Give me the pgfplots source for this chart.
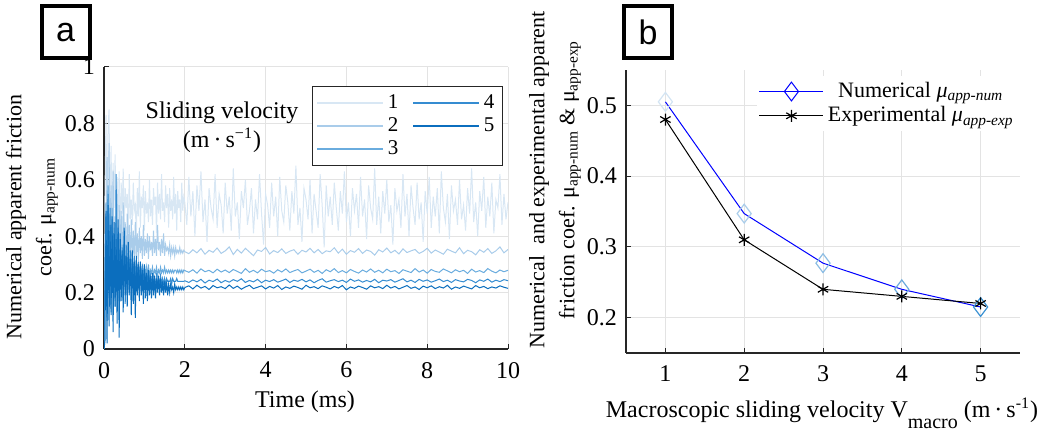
\documentclass[border=0pt]{standalone}
\usepackage{fontspec}
\setmainfont{Liberation Serif}
\newfontfamily\sansf{Liberation Sans}
\usepackage{pgfplots}
\usepackage{pgfplotstable}
\pgfplotsset{compat=1.18}
\definecolor{cA}{HTML}{D8E7F4}
\definecolor{cB}{HTML}{A9CCEA}
\definecolor{cC}{HTML}{6AACDE}
\definecolor{cD}{HTML}{358CD1}
\definecolor{cE}{HTML}{0B6EBE}
\definecolor{dA}{HTML}{D3E4F3}
\definecolor{dB}{HTML}{AACDEA}
\definecolor{dC}{HTML}{8CBDE4}
\definecolor{dD}{HTML}{6CAADD}
\definecolor{dE}{HTML}{3C92D3}
\definecolor{gridc}{HTML}{E3E3E3}
\definecolor{axc}{HTML}{262626}
\pgfplotstableread{
t s1 s2 s3 s4 s5
0.000 0.00 0.00 0.00 0.00 0.00
0.025 0.55 0.41 0.33 0.28 0.03
0.050 0.83 0.26 0.52 0.47 0.49
0.075 0.37 0.68 0.14 0.10 0.02
0.100 0.78 0.21 0.58 0.55 0.51
0.125 0.85 0.73 0.19 0.18 0.08
0.150 0.41 0.29 0.47 0.50 0.44
0.175 0.72 0.58 0.16 0.13 0.12
0.200 0.39 0.23 0.50 0.46 0.47
0.225 0.66 0.63 0.21 0.20 0.06
0.250 0.50 0.30 0.43 0.41 0.45
0.275 0.69 0.47 0.17 0.15 0.15
0.300 0.40 0.27 0.45 0.62 0.39
0.325 0.61 0.55 0.22 0.19 0.09
0.350 0.47 0.24 0.41 0.43 0.46
0.375 0.63 0.51 0.18 0.17 0.04
0.400 0.37 0.31 0.39 0.39 0.41
0.425 0.59 0.49 0.23 0.21 0.17
0.450 0.48 0.26 0.37 0.36 0.35
0.475 0.64 0.52 0.19 0.18 0.13
0.500 0.43 0.33 0.38 0.40 0.43
0.525 0.57 0.45 0.22 0.16 0.19
0.550 0.50 0.28 0.35 0.37 0.33
0.575 0.55 0.48 0.20 0.21 0.15
0.600 0.41 0.31 0.36 0.34 0.38
0.625 0.62 0.44 0.23 0.19 0.20
0.650 0.46 0.29 0.33 0.35 0.32
0.675 0.53 0.46 0.21 0.22 0.12
0.700 0.44 0.32 0.34 0.32 0.35
0.725 0.59 0.42 0.24 0.20 0.16
0.750 0.49 0.30 0.31 0.33 0.31
0.775 0.51 0.45 0.23 0.21 0.11
0.800 0.40 0.33 0.32 0.30 0.33
0.825 0.57 0.41 0.25 0.22 0.19
0.850 0.47 0.31 0.30 0.31 0.30
0.875 0.63 0.43 0.24 0.20 0.17
0.900 0.43 0.34 0.31 0.29 0.31
0.925 0.54 0.40 0.25 0.23 0.19
0.950 0.50 0.32 0.29 0.30 0.28
0.975 0.58 0.44 0.26 0.21 0.16
1.000 0.42 0.33 0.30 0.28 0.30
1.025 0.56 0.39 0.25 0.23 0.18
1.050 0.48 0.34 0.29 0.27 0.27
1.075 0.52 0.41 0.26 0.22 0.17
1.100 0.45 0.32 0.30 0.28 0.28
1.125 0.60 0.40 0.26 0.23 0.19
1.150 0.47 0.35 0.28 0.26 0.26
1.175 0.53 0.38 0.27 0.22 0.18
1.200 0.44 0.33 0.29 0.27 0.27
1.225 0.57 0.42 0.26 0.23 0.19
1.250 0.51 0.34 0.28 0.25 0.26
1.275 0.54 0.39 0.27 0.22 0.18
1.300 0.41 0.33 0.29 0.26 0.25
1.325 0.59 0.44 0.26 0.23 0.20
1.350 0.48 0.35 0.28 0.25 0.26
1.375 0.55 0.38 0.27 0.23 0.19
1.400 0.46 0.33 0.29 0.26 0.25
1.425 0.62 0.39 0.27 0.23 0.20
1.450 0.49 0.34 0.28 0.25 0.24
1.475 0.52 0.41 0.27 0.23 0.19
1.500 0.45 0.33 0.29 0.25 0.24
1.525 0.58 0.37 0.27 0.23 0.20
1.550 0.50 0.35 0.28 0.25 0.24
1.575 0.55 0.36 0.27 0.24 0.19
1.600 0.43 0.34 0.28 0.24 0.23
1.625 0.57 0.37 0.27 0.24 0.20
1.650 0.49 0.33 0.28 0.25 0.23
1.675 0.53 0.36 0.27 0.23 0.21
1.700 0.46 0.34 0.28 0.25 0.22
1.725 0.61 0.36 0.27 0.24 0.20
1.750 0.48 0.33 0.28 0.24 0.23
1.775 0.55 0.36 0.28 0.24 0.21
1.800 0.42 0.34 0.27 0.25 0.22
1.825 0.56 0.35 0.28 0.24 0.21
1.850 0.50 0.34 0.27 0.24 0.22
1.875 0.53 0.36 0.28 0.24 0.21
1.900 0.45 0.34 0.27 0.24 0.22
1.925 0.59 0.35 0.28 0.24 0.21
1.950 0.49 0.34 0.27 0.24 0.22
1.975 0.54 0.35 0.28 0.24 0.21
2.000 0.52 0.345 0.278 0.242 0.218
}\tA
\pgfplotstableread[row sep=\\]{
t y\\
2.00 0.52\\ 2.05 0.44\\ 2.10 0.61\\ 2.15 0.47\\ 2.20 0.56\\ 2.25 0.40\\ 2.30 0.58\\ 2.35 0.49\\ 2.40 0.63\\ 2.45 0.45\\
2.50 0.53\\ 2.55 0.38\\ 2.60 0.57\\ 2.65 0.50\\ 2.70 0.46\\ 2.75 0.62\\ 2.80 0.43\\ 2.85 0.55\\ 2.90 0.51\\ 2.95 0.41\\
3.00 0.59\\ 3.05 0.48\\ 3.10 0.54\\ 3.15 0.42\\ 3.20 0.64\\ 3.25 0.47\\ 3.30 0.52\\ 3.35 0.39\\ 3.40 0.56\\ 3.45 0.50\\
3.50 0.60\\ 3.55 0.44\\ 3.60 0.49\\ 3.65 0.57\\ 3.70 0.41\\ 3.75 0.53\\ 3.80 0.46\\ 3.85 0.62\\ 3.90 0.48\\ 3.95 0.37\\
4.00 0.55\\ 4.05 0.51\\ 4.10 0.43\\ 4.15 0.59\\ 4.20 0.47\\ 4.25 0.54\\ 4.30 0.40\\ 4.35 0.61\\ 4.40 0.49\\ 4.45 0.45\\
4.50 0.58\\ 4.55 0.52\\ 4.60 0.42\\ 4.65 0.56\\ 4.70 0.48\\ 4.75 0.65\\ 4.80 0.44\\ 4.85 0.50\\ 4.90 0.38\\ 4.95 0.57\\
5.00 0.53\\ 5.05 0.46\\ 5.10 0.60\\ 5.15 0.41\\ 5.20 0.55\\ 5.25 0.49\\ 5.30 0.43\\ 5.35 0.62\\ 5.40 0.51\\ 5.45 0.36\\
5.50 0.58\\ 5.55 0.47\\ 5.60 0.54\\ 5.65 0.44\\ 5.70 0.59\\ 5.75 0.50\\ 5.80 0.42\\ 5.85 0.56\\ 5.90 0.48\\ 5.95 0.63\\
6.00 0.45\\ 6.05 0.52\\ 6.10 0.40\\ 6.15 0.57\\ 6.20 0.49\\ 6.25 0.55\\ 6.30 0.43\\ 6.35 0.61\\ 6.40 0.47\\ 6.45 0.53\\
6.50 0.39\\ 6.55 0.58\\ 6.60 0.50\\ 6.65 0.46\\ 6.70 0.64\\ 6.75 0.44\\ 6.80 0.54\\ 6.85 0.41\\ 6.90 0.56\\ 6.95 0.48\\
7.00 0.60\\ 7.05 0.45\\ 7.10 0.51\\ 7.15 0.37\\ 7.20 0.57\\ 7.25 0.49\\ 7.30 0.53\\ 7.35 0.43\\ 7.40 0.62\\ 7.45 0.47\\
7.50 0.55\\ 7.55 0.40\\ 7.60 0.58\\ 7.65 0.50\\ 7.70 0.44\\ 7.75 0.59\\ 7.80 0.46\\ 7.85 0.52\\ 7.90 0.38\\ 7.95 0.56\\
8.00 0.48\\ 8.05 0.61\\ 8.10 0.43\\ 8.15 0.54\\ 8.20 0.47\\ 8.25 0.57\\ 8.30 0.41\\ 8.35 0.63\\ 8.40 0.50\\ 8.45 0.45\\
8.50 0.55\\ 8.55 0.39\\ 8.60 0.58\\ 8.65 0.49\\ 8.70 0.53\\ 8.75 0.44\\ 8.80 0.60\\ 8.85 0.46\\ 8.90 0.51\\ 8.95 0.42\\
9.00 0.57\\ 9.05 0.48\\ 9.10 0.64\\ 9.15 0.45\\ 9.20 0.52\\ 9.25 0.40\\ 9.30 0.56\\ 9.35 0.49\\ 9.40 0.61\\ 9.45 0.43\\
9.50 0.54\\ 9.55 0.47\\ 9.60 0.59\\ 9.65 0.41\\ 9.70 0.53\\ 9.75 0.50\\ 9.80 0.62\\ 9.85 0.44\\ 9.90 0.55\\ 9.95 0.46\\
10.00 0.52\\
}\tB
\pgfplotstableread{
t s2 s3 s4 s5
2.0 0.345 0.278 0.242 0.218
2.1 0.338 0.272 0.236 0.224
2.2 0.352 0.281 0.245 0.213
2.3 0.341 0.269 0.238 0.226
2.4 0.356 0.284 0.247 0.216
2.5 0.336 0.274 0.234 0.222
2.6 0.350 0.279 0.244 0.211
2.7 0.343 0.270 0.239 0.225
2.8 0.358 0.283 0.248 0.217
2.9 0.339 0.273 0.235 0.221
3.0 0.348 0.280 0.243 0.214
3.1 0.362 0.271 0.237 0.227
3.2 0.335 0.282 0.246 0.215
3.3 0.353 0.275 0.240 0.223
3.4 0.340 0.268 0.249 0.212
3.5 0.357 0.285 0.236 0.220
3.6 0.344 0.272 0.243 0.226
3.7 0.331 0.279 0.238 0.214
3.8 0.351 0.270 0.247 0.219
3.9 0.346 0.283 0.235 0.224
4.0 0.360 0.274 0.244 0.213
4.1 0.337 0.278 0.239 0.222
4.2 0.349 0.269 0.246 0.216
4.3 0.342 0.281 0.237 0.225
4.4 0.355 0.273 0.242 0.211
4.5 0.339 0.284 0.248 0.220
4.6 0.347 0.271 0.236 0.215
4.7 0.352 0.277 0.244 0.223
4.8 0.336 0.282 0.240 0.218
4.9 0.350 0.270 0.247 0.212
5.0 0.344 0.276 0.238 0.226
5.1 0.357 0.283 0.245 0.217
5.2 0.341 0.272 0.235 0.221
5.3 0.353 0.279 0.243 0.214
5.4 0.338 0.268 0.249 0.224
5.5 0.348 0.281 0.237 0.219
5.6 0.345 0.274 0.242 0.213
5.7 0.359 0.285 0.246 0.222
5.8 0.340 0.271 0.239 0.216
5.9 0.354 0.278 0.244 0.225
6.0 0.336 0.270 0.236 0.210
6.1 0.349 0.282 0.248 0.220
6.2 0.343 0.275 0.240 0.215
6.3 0.356 0.269 0.245 0.223
6.4 0.339 0.280 0.237 0.218
6.5 0.351 0.273 0.243 0.212
6.6 0.346 0.284 0.238 0.224
6.7 0.333 0.272 0.247 0.217
6.8 0.352 0.279 0.235 0.221
6.9 0.344 0.270 0.244 0.214
7.0 0.358 0.283 0.241 0.226
7.1 0.341 0.274 0.246 0.216
7.2 0.350 0.278 0.237 0.222
7.3 0.337 0.268 0.243 0.213
7.4 0.355 0.281 0.249 0.219
7.5 0.342 0.276 0.238 0.225
7.6 0.348 0.271 0.244 0.215
7.7 0.353 0.285 0.236 0.220
7.8 0.339 0.273 0.247 0.211
7.9 0.346 0.280 0.240 0.223
8.0 0.357 0.269 0.245 0.217
8.1 0.340 0.282 0.237 0.224
8.2 0.351 0.275 0.242 0.214
8.3 0.344 0.272 0.248 0.221
8.4 0.336 0.284 0.239 0.216
8.5 0.354 0.277 0.244 0.226
8.6 0.347 0.270 0.236 0.212
8.7 0.341 0.281 0.246 0.220
8.8 0.359 0.274 0.241 0.215
8.9 0.338 0.279 0.238 0.223
9.0 0.350 0.268 0.247 0.218
9.1 0.345 0.283 0.243 0.213
9.2 0.334 0.273 0.235 0.225
9.3 0.352 0.278 0.245 0.217
9.4 0.343 0.271 0.240 0.222
9.5 0.356 0.285 0.248 0.214
9.6 0.339 0.276 0.237 0.220
9.7 0.348 0.270 0.244 0.216
9.8 0.362 0.280 0.239 0.224
9.9 0.341 0.274 0.246 0.219
10.0 0.353 0.279 0.242 0.215
}\tC
\pgfplotsset{mystyle/.style={scale only axis, axis x line*=bottom, axis y line*=left,
  axis line style={-,axc,line width=0.6pt}, grid=major, major grid style={gridc,line width=0.5pt},
  tick align=inside, major tick length=2.5pt, tick style={axc,line width=0.5pt},
  /pgf/number format/assume math mode=true,
  xticklabel={\pgfmathprintnumber{\tick}}, yticklabel={\pgfmathprintnumber{\tick}},
  ticklabel style={font=\rmfamily\fontsize{12}{14}\selectfont},
  xticklabel style={yshift=-3pt}, yticklabel style={xshift=-1pt}}}
\begin{document}
\begin{tikzpicture}
\path[use as bounding box] (0,0) rectangle (527.5pt,219pt);
% ---------- panel a ----------
\begin{axis}[mystyle, at={(52pt,44.5pt)}, anchor=south west, width=202pt, height=141pt,
  xmin=0, xmax=10, ymin=0, ymax=1, xtick={0,2,4,6,8,10}, ytick={0,0.2,0.4,0.6,0.8,1},
  legend columns=2,
  legend image code/.code={\draw[#1] (0pt,0pt) -- (33pt,0pt);},
  legend style={at={(1,1)}, anchor=north east, xshift=-2.5pt, yshift=-9.5pt,
    draw=axc, line width=0.6pt, fill=white, font=\fontsize{10.5}{12}\selectfont,
    row sep=-1pt, inner xsep=2pt, /tikz/every even column/.append style={column sep=5pt}}]
\addlegendimage{cA, line width=0.8pt}\addlegendentry{1}
\addlegendimage{cD, line width=0.8pt}\addlegendentry{4}
\addlegendimage{cB, line width=0.8pt}\addlegendentry{2}
\addlegendimage{cE, line width=0.8pt}\addlegendentry{5}
\addlegendimage{cC, line width=0.8pt}\addlegendentry{3}
\addplot[cA, line width=0.5pt, forget plot] table[x=t,y=s1] {\tA};
\addplot[cA, line width=0.5pt, forget plot] table[x=t,y=y] {\tB};
\addplot[cB, line width=0.5pt, forget plot] table[x=t,y=s2] {\tA};
\addplot[cB, line width=0.5pt, forget plot] table[x=t,y=s2] {\tC};
\addplot[cC, line width=0.5pt, forget plot] table[x=t,y=s3] {\tA};
\addplot[cC, line width=0.5pt, forget plot] table[x=t,y=s3] {\tC};
\addplot[cD, line width=0.5pt, forget plot] table[x=t,y=s4] {\tA};
\addplot[cD, line width=0.5pt, forget plot] table[x=t,y=s4] {\tC};
\addplot[cE, line width=0.5pt, forget plot] table[x=t,y=s5] {\tA};
\addplot[cE, line width=0.5pt, forget plot] table[x=t,y=s5] {\tC};
\end{axis}
\node[font=\fontsize{12}{14}\selectfont] at (111pt,162.5pt) {Sliding velocity};
\node[font=\fontsize{12}{14}\selectfont] at (111pt,149pt) {(m\,·\,s\textsuperscript{−1})};
\node[font=\fontsize{12}{14}\selectfont] at (152.5pt,18pt) {Time (ms)};
\node[rotate=90, align=center, font=\fontsize{11}{15}\selectfont] at (16pt,110.5pt)
  {Numerical apparent friction\\coef. μ\textsubscript{app-num}};
\node[draw, line width=2pt, minimum width=24pt, minimum height=26pt, inner sep=0pt,
  font=\sansf\fontsize{17}{17}\selectfont] at (32.75pt,202.75pt) {a};
% ---------- panel b ----------
\begin{axis}[mystyle, at={(313pt,42.5pt)}, anchor=south west, width=197pt, height=141.5pt,
  xmin=0.5, xmax=5.5, ymin=0.15, ymax=0.55, xtick={1,2,3,4,5}, ytick={0.2,0.3,0.4,0.5},
  legend image code/.code={\draw[mark repeat=2,mark phase=2,#1] plot coordinates {(0pt,0pt) (16pt,0pt) (32pt,0pt)};},
  legend style={at={(1,1)}, anchor=north east, yshift=-3pt, draw=none, fill=white,
    font=\fontsize{11}{13}\selectfont, row sep=-1pt, inner sep=1pt}]
\addlegendimage{blue, line width=0.5pt, mark=diamond, mark size=4.7pt, mark options={line width=0.5pt}}
\addlegendentry{Numerical \textit{μ}\textsubscript{\textit{app-num}}}
\addlegendimage{black, line width=0.5pt, mark=asterisk, mark size=3pt, mark options={line width=0.6pt}}
\addlegendentry{Experimental \textit{μ}\textsubscript{\textit{app-exp}}}
\addplot[blue, line width=0.5pt, forget plot] coordinates {(1,0.505) (2,0.347) (3,0.277) (4,0.240) (5,0.215)};
\addplot[dA, only marks, mark=diamond, mark size=4.7pt, mark options={line width=0.6pt}, forget plot] coordinates {(1,0.505)};
\addplot[dB, only marks, mark=diamond, mark size=4.7pt, mark options={line width=0.6pt}, forget plot] coordinates {(2,0.347)};
\addplot[dC, only marks, mark=diamond, mark size=4.7pt, mark options={line width=0.6pt}, forget plot] coordinates {(3,0.277)};
\addplot[dD, only marks, mark=diamond, mark size=4.7pt, mark options={line width=0.6pt}, forget plot] coordinates {(4,0.240)};
\addplot[dE, only marks, mark=diamond, mark size=4.7pt, mark options={line width=0.6pt}, forget plot] coordinates {(5,0.215)};
\addplot[black, line width=0.5pt, mark=asterisk, mark size=3pt, mark options={line width=0.6pt}, forget plot]
  coordinates {(1,0.48) (2,0.31) (3,0.24) (4,0.23) (5,0.22)};
\end{axis}
\node[font=\fontsize{12}{14}\selectfont] at (411pt,12.5pt)
  {Macroscopic sliding velocity V\raisebox{-1ex}{\fontsize{10}{10}\selectfont macro} (m\,·\,s\textsuperscript{-1})};
\node[rotate=90, align=center, font=\fontsize{11}{15}\selectfont] at (277.5pt,129pt)
  {Numerical \ and experimental apparent\\friction coef. μ\textsubscript{app-num} \& μ\textsubscript{app-exp}};
\node[draw, line width=2pt, minimum width=24pt, minimum height=26pt, inner sep=0pt,
  font=\sansf\fontsize{17}{17}\selectfont] at (324pt,202.75pt) {b};
\end{tikzpicture}
\end{document}
